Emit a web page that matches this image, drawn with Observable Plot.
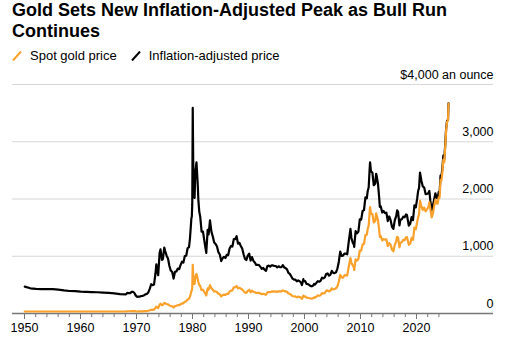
<!DOCTYPE html>
<html><head><meta charset="utf-8">
<script src="https://cdn.jsdelivr.net/npm/d3@7"></script>
<script src="https://cdn.jsdelivr.net/npm/@observablehq/plot@0.6"></script>
<style>
body{margin:0;background:#fff;font-family:"Liberation Sans",Arial,sans-serif;color:#000}
#wrap{width:509px;height:343px;position:relative;overflow:hidden;background:#fff}
.title{margin:0 0 0 12px;font-size:18px;font-weight:700;line-height:21px;height:42px}
.legend{margin:6px 0 0 12px;font-size:13px;line-height:16px;height:16px;display:flex;align-items:center;white-space:nowrap}
.legend svg{margin-right:8px}
.legend .item{display:flex;align-items:center;margin-right:14px}
#chart svg{display:block}
</style></head>
<body><div id="wrap">
<div class="title">Gold Sets New Inflation-Adjusted Peak as Bull Run<br>Continues</div>
<div class="legend" id="legend"></div>
<div id="chart"></div>
</div>
<script>
// Series labels and colours
const seriesNames = ["Spot gold price", "Inflation-adjusted price"];
const seriesColors = ["#f9a12b", "#000000"];

// Dates (YYYY-MM), spot price and inflation-adjusted price
const dates = [
  "1950-01","1951-01","1952-01","1953-01","1954-01","1955-01","1956-01","1957-01","1958-01","1959-01",
  "1960-01","1961-01","1962-01","1963-01","1964-01","1965-01","1966-01","1967-01",
  "1968-02","1968-05","1968-08","1968-11",
  "1969-02","1969-05","1969-08","1969-11",
  "1970-02","1970-05","1970-08","1970-11",
  "1971-02","1971-05","1971-08","1971-11",
  "1972-02","1972-05","1972-08","1972-11",
  "1973-02","1973-05","1973-07","1973-09","1973-11",
  "1974-02","1974-04","1974-07","1974-09","1974-12",
  "1975-02","1975-05","1975-08","1975-11",
  "1976-02","1976-05","1976-08","1976-11",
  "1977-02","1977-05","1977-08","1977-11",
  "1978-02","1978-05","1978-08","1978-11",
  "1979-02","1979-05","1979-07","1979-09","1979-10","1979-11","1979-12",
  "1980-01","1980-02","1980-03","1980-04","1980-05","1980-06","1980-07","1980-09","1980-10","1980-11","1980-12",
  "1981-01","1981-03","1981-05","1981-08","1981-11",
  "1982-02","1982-04","1982-06","1982-09","1982-11",
  "1983-02","1983-05","1983-08","1983-11",
  "1984-02","1984-05","1984-08","1984-11",
  "1985-02","1985-05","1985-08","1985-11",
  "1986-02","1986-05","1986-08","1986-11",
  "1987-02","1987-05","1987-08","1987-11",
  "1988-02","1988-05","1988-08","1988-11",
  "1989-02","1989-05","1989-08","1989-11",
  "1990-02","1990-05","1990-08","1990-11",
  "1991-02","1991-05","1991-08","1991-11",
  "1992-02","1992-05","1992-08","1992-11",
  "1993-02","1993-05","1993-08","1993-11",
  "1994-02","1994-05","1994-08","1994-11",
  "1995-02","1995-05","1995-08","1995-11",
  "1996-02","1996-05","1996-08","1996-11",
  "1997-02","1997-05","1997-08","1997-11",
  "1998-02","1998-05","1998-08","1998-11",
  "1999-02","1999-05","1999-07","1999-10","1999-11",
  "2000-02","2000-05","2000-08","2000-11",
  "2001-02","2001-04","2001-07","2001-09","2001-11",
  "2002-02","2002-05","2002-08","2002-11",
  "2003-02","2003-05","2003-08","2003-11",
  "2004-02","2004-05","2004-08","2004-11",
  "2005-02","2005-05","2005-08","2005-11",
  "2006-02","2006-05","2006-08","2006-11",
  "2007-02","2007-05","2007-08","2007-11",
  "2008-03","2008-05","2008-08","2008-10","2008-11",
  "2009-02","2009-05","2009-08","2009-11",
  "2010-02","2010-05","2010-08","2010-11",
  "2011-02","2011-04","2011-06","2011-08","2011-09","2011-11",
  "2012-02","2012-05","2012-08","2012-10","2012-11",
  "2013-02","2013-04","2013-06","2013-08","2013-11",
  "2014-02","2014-05","2014-08","2014-11",
  "2015-02","2015-05","2015-08","2015-11",
  "2016-02","2016-05","2016-07","2016-09","2016-12",
  "2017-02","2017-05","2017-08","2017-11",
  "2018-02","2018-04","2018-08","2018-11",
  "2019-02","2019-05","2019-08","2019-11",
  "2020-02","2020-04","2020-06","2020-08","2020-11",
  "2021-02","2021-05","2021-08","2021-11",
  "2022-02","2022-04","2022-06","2022-09","2022-11",
  "2023-02","2023-05","2023-08","2023-10","2023-12",
  "2024-02","2024-04","2024-06","2024-08","2024-10","2024-12",
  "2025-02","2025-04","2025-06","2025-08","2025-09"
];
const spot = [
  35,35,35,35,35,35,35,35,35,35,
  35,35,35,35,35,35,35,35,
  36,39,39,39,
  42,43,41,36,
  35,35.5,36,37.5,
  38.5,40,42,43,
  48,56,66,64,
  68,95,120,103,95,
  155,170,145,150,185,
  178,167,160,142,
  130,127,108,130,
  135,146,145,162,
  176,178,205,210,
  245,257,295,350,390,400,460,
  850,665,555,515,515,600,645,690,660,625,590,
  550,500,480,410,415,
  375,345,315,440,415,
  495,440,415,385,
  385,375,345,335,
  300,320,330,325,
  345,343,385,400,
  405,455,460,480,
  440,450,435,420,
  390,365,360,395,
  415,370,400,380,
  370,358,360,360,
  350,338,345,335,
  330,370,375,372,
  382,385,382,385,
  377,390,385,385,
  405,390,387,380,
  350,343,324,305,
  297,298,285,294,
  287,277,256,310,293,
  300,275,275,266,
  262,260,268,283,276,
  295,315,310,320,
  355,350,360,395,
  405,385,400,440,
  422,425,440,475,
  555,675,630,625,
  665,670,665,805,
  970,885,840,810,760,
  945,925,950,1100,
  1100,1205,1215,1370,
  1375,1480,1530,1760,1860,1740,
  1740,1590,1615,1750,1720,
  1630,1490,1340,1350,1275,
  1300,1290,1295,1180,
  1230,1200,1115,1085,
  1200,1260,1340,1325,1155,
  1235,1245,1285,1280,
  1330,1335,1200,1220,
  1320,1285,1500,1470,
  1600,1680,1735,1970,1870,
  1810,1850,1785,1820,
  1860,1940,1840,1680,1725,
  1855,1990,1920,1920,2030,
  2025,2330,2325,2470,2690,2640,
  2900,3200,3350,3370,3665
];
const real = [
  470,440,430,427,425,425,418,404,393,390,
  383,379,375,371,366,360,350,340,
  335,360,357,355,
  378,380,358,312,
  292,294,296,306,
  308,320,336,342,
  372,434,511,494,
  505,690,860,735,670,
  1055,1120,935,950,1150,
  1090,1010,960,830,
  750,725,610,730,
  735,785,775,850,
  905,890,1005,1010,
  1140,1160,1305,1530,1660,1690,1910,
  3590,2690,2220,2035,2020,2330,2500,2640,2510,2355,2205,
  1990,1780,1695,1430,1430,
  1265,1160,1060,1460,1380,
  1625,1430,1345,1240,
  1215,1170,1070,1030,
  915,965,990,970,
  1025,1020,1135,1180,
  1170,1300,1300,1350,
  1220,1235,1180,1135,
  1035,955,935,1015,
  1045,925,985,920,
  890,850,850,845,
  815,780,795,765,
  745,830,835,820,
  840,840,830,830,
  805,825,810,808,
  845,805,793,770,
  710,692,650,608,
  592,592,563,578,
  565,540,497,600,565,
  565,515,512,495,
  482,475,488,515,505,
  535,565,555,570,
  625,615,632,690,
  700,660,680,745,
  710,705,720,785,
  900,1080,1005,1010,
  1045,1045,1035,1235,
  1480,1320,1235,1210,1165,
  1440,1400,1430,1645,
  1640,1790,1805,2030,
  2010,2140,2200,2510,2640,2480,
  2460,2240,2265,2440,2410,
  2265,2075,1860,1870,1765,
  1790,1755,1760,1615,
  1695,1630,1515,1480,
  1630,1700,1800,1775,1540,
  1640,1645,1690,1680,
  1730,1720,1535,1565,
  1685,1630,1890,1855,
  2010,2140,2195,2460,2320,
  2220,2200,2085,2090,
  2100,2140,1980,1805,1855,
  1980,2100,2020,2015,2120,
  2110,2410,2400,2540,2760,2700,
  2940,3230,3370,3380,3670
];

// Axis ticks
const yTicks = [0, 1000, 2000, 3000, 4000];
const decadeTicks = [1950, 1960, 1970, 1980, 1990, 2000, 2010, 2020];
const minorTicks = d3.range(1950, 2025, 2);

const toYear = s => +s.slice(0, 4) + (+s.slice(5, 7) - 0.5) / 12;
const table = dates.map((d, i) => ({t: toYear(d), spot: spot[i], real: real[i]}));

// Legend
const legend = document.getElementById("legend");
seriesNames.forEach((name, i) => {
  const item = document.createElement("span");
  item.className = "item";
  item.innerHTML = `<svg width="10" height="10"><line x1="1" y1="9.5" x2="9" y2="0.5" stroke="${seriesColors[i]}" stroke-width="2"/></svg>${name}`;
  legend.appendChild(item);
});

const fmt = d3.format(",");
const chart = Plot.plot({
  width: 509, height: 279,
  marginLeft: 12, marginRight: 16, marginTop: 20, marginBottom: 30,
  x: {domain: [1947.857, 2033.75], axis: null, label: null},
  y: {domain: [0, 4000], axis: null, label: null},
  style: {fontFamily: "Liberation Sans, Arial, sans-serif", fontSize: "12.5px", background: "white", color: "#000"},
  marks: [
    Plot.ruleY(yTicks.filter(d => d > 0), {stroke: "#d6d6d6", strokeWidth: 1}),
    Plot.text(yTicks, {y: d => d, text: d => d === 4000 ? "$4,000 an ounce" : fmt(d), frameAnchor: "right", textAnchor: "end", lineAnchor: "middle", dy: -10, fill: "#000"}),
    Plot.axisX({ticks: minorTicks, tickSize: 4, tickFormat: () => "", stroke: "#777", label: null}),
    Plot.axisX({ticks: decadeTicks, tickSize: 6, tickFormat: () => "", stroke: "#777", label: null}),
    Plot.text(decadeTicks, {x: d => d, text: d => String(d), frameAnchor: "bottom", lineAnchor: "top", dy: 9.5, fill: "#000"}),
    Plot.ruleY([0], {stroke: "#777", strokeWidth: 1.3}),
    Plot.lineY(table, {x: "t", y: "real", stroke: seriesColors[1], strokeWidth: 2.2, strokeLinejoin: "round"}),
    Plot.lineY(table, {x: "t", y: "spot", stroke: seriesColors[0], strokeWidth: 2.2, strokeLinejoin: "round"})
  ]
});
document.getElementById("chart").appendChild(chart);
</script>
</body></html>
